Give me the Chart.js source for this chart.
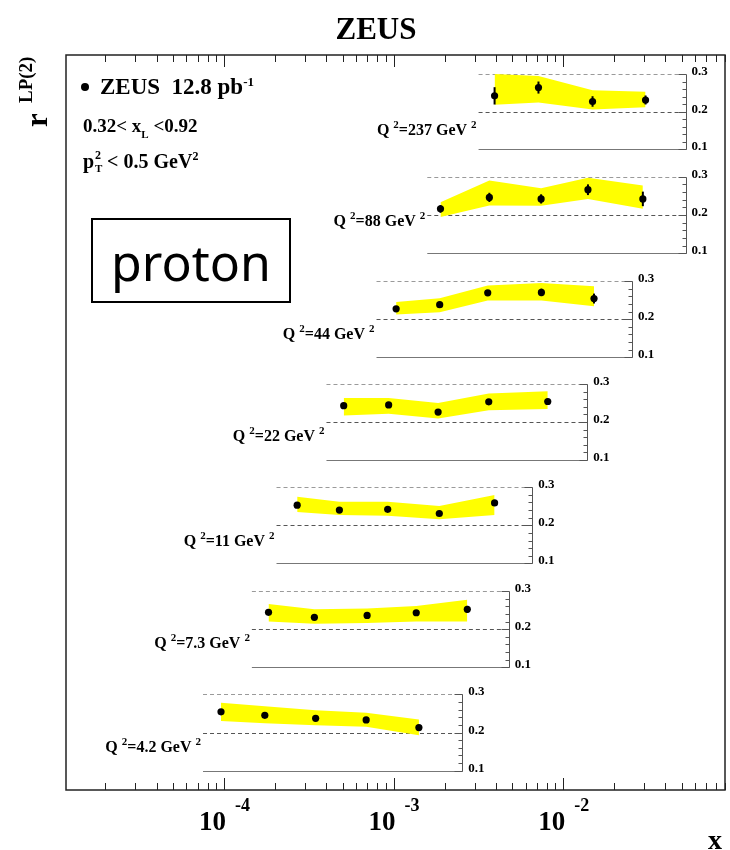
<!DOCTYPE html>
<html>
<head>
<meta charset="utf-8">
<script src="https://cdn.jsdelivr.net/npm/chart.js@4.4.1/dist/chart.umd.min.js"></script>
<style>
  html, body { margin: 0; padding: 0; background: #fff; }
  #wrap { width: 730px; height: 850px; }
</style>
</head>
<body>
<div id="wrap"><canvas id="c" width="730" height="850"></canvas></div>
<script>
// Q^2 bins, top panel first
const q2Labels = ["237", "88", "44", "22", "11", "7.3", "4.2"];

// bin centres in x for every Q^2 bin
const xValues = [
  [3.94e-3, 7.15e-3, 0.0149, 0.0306],
  [1.89e-3, 3.67e-3, 7.41e-3, 0.0140, 0.0295],
  [1.035e-3, 1.87e-3, 3.59e-3, 7.44e-3, 0.0152],
  [5.08e-4, 9.35e-4, 1.83e-3, 3.64e-3, 8.11e-3],
  [2.70e-4, 4.79e-4, 9.23e-4, 1.86e-3, 3.94e-3],
  [1.83e-4, 3.41e-4, 6.98e-4, 1.36e-3, 2.72e-3],
  [9.6e-5, 1.74e-4, 3.47e-4, 6.89e-4, 1.41e-3]
];

// r^LP(2) measured
const rValues = [
  [0.242, 0.264, 0.227, 0.231],
  [0.216, 0.246, 0.242, 0.266, 0.242],
  [0.227, 0.238, 0.269, 0.270, 0.254],
  [0.243, 0.245, 0.226, 0.253, 0.254],
  [0.253, 0.240, 0.242, 0.231, 0.259],
  [0.244, 0.231, 0.236, 0.243, 0.252],
  [0.254, 0.245, 0.237, 0.233, 0.213]
];

// statistical errors
const statErr = [
  [0.023, 0.016, 0.014, 0.012],
  [0.010, 0.012, 0.012, 0.014, 0.019],
  [0.005, 0.005, 0.006, 0.010, 0.013],
  [0.005, 0.005, 0.005, 0.006, 0.007],
  [0.005, 0.005, 0.005, 0.006, 0.007],
  [0.005, 0.005, 0.005, 0.006, 0.009],
  [0.005, 0.005, 0.005, 0.005, 0.006]
];

// systematic band, upper and lower edge
const bandHigh = [
  [0.300, 0.295, 0.257, 0.253],
  [0.233, 0.290, 0.270, 0.297, 0.277],
  [0.245, 0.255, 0.288, 0.295, 0.286],
  [0.263, 0.263, 0.250, 0.275, 0.281],
  [0.275, 0.262, 0.262, 0.251, 0.280],
  [0.266, 0.252, 0.254, 0.261, 0.277],
  [0.278, 0.269, 0.258, 0.252, 0.234]
];
const bandLow = [
  [0.218, 0.224, 0.206, 0.212],
  [0.195, 0.225, 0.224, 0.242, 0.216],
  [0.212, 0.218, 0.249, 0.249, 0.234],
  [0.217, 0.222, 0.209, 0.231, 0.234],
  [0.235, 0.227, 0.225, 0.216, 0.227],
  [0.220, 0.214, 0.216, 0.220, 0.220],
  [0.230, 0.224, 0.219, 0.215, 0.193]
];

const panelTicks = [0.1, 0.2, 0.3];
const xTickPowers = [-4, -3, -2];

// ---- layout (pixels / axis extents), not data ----
const area = { left: 66, right: 725, top: 55, bottom: 790 };
const panelTopPx = [74, 176.7, 281, 384, 487.3, 591, 694.3];
const panelBotPx = [149.3, 253.3, 357.3, 460, 563.3, 667.3, 770.7];
const panelXFrom = [3.17e-3, 1.58e-3, 7.93e-4, 4.02e-4, 2.04e-4, 1.46e-4, 7.52e-5];
const panelXTo = [0.0527, 0.0527, 0.0255, 0.01386, 6.56e-3, 4.77e-3, 2.54e-3];
const labelDrop = [23, 11, 20, 19, 21, 19, 19];
const YELLOW = "#ffff00";

const serif = (px) => "bold " + px + "px 'Liberation Serif', 'DejaVu Serif', serif";

function rich(ctx, parts, x, y, align) {
  let w = 0;
  parts.forEach(p => { ctx.font = serif(p[1]); w += ctx.measureText(p[0]).width; });
  let cx = align === "right" ? x - w : (align === "center" ? x - w / 2 : x);
  parts.forEach(p => {
    ctx.font = serif(p[1]);
    ctx.fillText(p[0], cx, y - (p[2] || 0));
    cx += ctx.measureText(p[0]).width;
  });
  return cx;
}

const scales = {
  x: { type: "logarithmic", min: 1.17e-5, max: 0.09, display: false }
};
const datasets = [];
q2Labels.forEach((q, i) => {
  const ppu = (panelBotPx[i] - panelTopPx[i]) / 0.2;
  scales["y" + i] = {
    type: "linear",
    display: false,
    min: 0.1 - (area.bottom - panelBotPx[i]) / ppu,
    max: 0.3 + (panelTopPx[i] - area.top) / ppu
  };
  datasets.push({
    data: xValues[i].map((x, j) => ({ x: x, y: bandHigh[i][j] })),
    yAxisID: "y" + i, borderWidth: 0, pointRadius: 0, fill: false, tension: 0, order: 2
  });
  datasets.push({
    data: xValues[i].map((x, j) => ({ x: x, y: bandLow[i][j] })),
    yAxisID: "y" + i, borderWidth: 0, pointRadius: 0, fill: "-1",
    backgroundColor: YELLOW, tension: 0, order: 2
  });
  datasets.push({
    data: xValues[i].map((x, j) => ({ x: x, y: rValues[i][j] })),
    yAxisID: "y" + i, showLine: false, pointRadius: 3.6,
    pointBackgroundColor: "#000", pointBorderWidth: 0, order: 0
  });
});

const panelPlugin = {
  id: "panels",
  beforeDatasetsDraw(chart) {
    const ctx = chart.ctx;
    const xs = chart.scales.x;
    ctx.save();
    q2Labels.forEach((q, i) => {
      const ys = chart.scales["y" + i];
      const x0 = xs.getPixelForValue(panelXFrom[i]);
      const x1 = Math.round(xs.getPixelForValue(panelXTo[i])) + 0.5;
      const y3 = Math.round(ys.getPixelForValue(0.3)) + 0.5;
      const y2 = Math.round(ys.getPixelForValue(0.2)) + 0.5;
      const y1 = Math.round(ys.getPixelForValue(0.1)) + 0.5;
      ctx.lineWidth = 1;
      ctx.setLineDash([4, 3]);
      ctx.strokeStyle = "#9a9a9a";
      ctx.beginPath(); ctx.moveTo(x0, y3); ctx.lineTo(x1, y3); ctx.stroke();
      ctx.strokeStyle = "#555";
      ctx.beginPath(); ctx.moveTo(x0, y2); ctx.lineTo(x1, y2); ctx.stroke();
      ctx.setLineDash([]);
      ctx.strokeStyle = "#777";
      ctx.beginPath(); ctx.moveTo(x0, y1); ctx.lineTo(x1, y1); ctx.stroke();
      ctx.strokeStyle = "#555";
      ctx.beginPath(); ctx.moveTo(x1, y1); ctx.lineTo(x1, y3); ctx.stroke();
      for (let k = 0; k <= 10; k++) {
        const v = 0.1 + k * 0.02;
        const yy = Math.round(ys.getPixelForValue(v)) + 0.5;
        const len = k % 5 === 0 ? 8 : 4;
        ctx.beginPath(); ctx.moveTo(x1, yy); ctx.lineTo(x1 - len, yy); ctx.stroke();
      }
    });
    ctx.restore();
  },
  afterDatasetsDraw(chart) {
    const ctx = chart.ctx;
    const xs = chart.scales.x;
    ctx.save();
    ctx.strokeStyle = "#000";
    ctx.lineWidth = 2;
    q2Labels.forEach((q, i) => {
      const ys = chart.scales["y" + i];
      xValues[i].forEach((x, j) => {
        const px = xs.getPixelForValue(x);
        ctx.beginPath();
        ctx.moveTo(px, ys.getPixelForValue(rValues[i][j] - statErr[i][j]));
        ctx.lineTo(px, ys.getPixelForValue(rValues[i][j] + statErr[i][j]));
        ctx.stroke();
      });
    });
    ctx.restore();
  },
  afterDraw(chart) {
    const ctx = chart.ctx;
    const xs = chart.scales.x;
    ctx.save();
    ctx.fillStyle = "#000";
    ctx.textBaseline = "alphabetic";
    ctx.textAlign = "left";

    // panel axis labels and Q^2 labels
    q2Labels.forEach((q, i) => {
      const ys = chart.scales["y" + i];
      const x0 = xs.getPixelForValue(panelXFrom[i]);
      const x1 = xs.getPixelForValue(panelXTo[i]);
      ctx.font = serif(13);
      panelTicks.forEach(t => {
        ctx.fillText(t.toFixed(1), x1 + 6, ys.getPixelForValue(t) + 1);
      });
      const yb = ys.getPixelForValue(0.2) + labelDrop[i];
      rich(ctx, [["Q ", 16], ["2", 11, 7], ["=" + q + " GeV ", 16], ["2", 11, 7]], x0 - 2, yb, "right");
    });

    // outer frame
    ctx.strokeStyle = "#222";
    ctx.lineWidth = 1.5;
    ctx.strokeRect(area.left, area.top, area.right - area.left, area.bottom - area.top);
    ctx.lineWidth = 1;
    for (let d = -5; d <= -2; d++) {
      for (let m = 1; m <= 9; m++) {
        const v = m * Math.pow(10, d);
        if (v < xs.min || v > xs.max) continue;
        const px = Math.round(xs.getPixelForValue(v)) + 0.5;
        const len = m === 1 ? 12 : 7;
        ctx.beginPath();
        ctx.moveTo(px, area.top); ctx.lineTo(px, area.top + len);
        ctx.moveTo(px, area.bottom); ctx.lineTo(px, area.bottom - len);
        ctx.stroke();
      }
    }

    // x tick labels
    xTickPowers.forEach(p => {
      const px = xs.getPixelForValue(Math.pow(10, p));
      ctx.font = serif(27);
      ctx.textAlign = "right";
      ctx.fillText("10", px + 2, 830);
      ctx.textAlign = "left";
      ctx.font = serif(18);
      ctx.fillText(String(p), px + 11, 811);
    });
    ctx.font = serif(28);
    ctx.fillText("x", 708, 849);

    // title
    ctx.textAlign = "center";
    ctx.font = serif(31);
    ctx.fillText("ZEUS", 376, 39);
    ctx.textAlign = "left";

    // y title
    ctx.save();
    ctx.translate(47, 127);
    ctx.rotate(-Math.PI / 2);
    ctx.font = serif(31);
    ctx.fillText("r", 0, 0);
    ctx.font = serif(19);
    ctx.fillText("LP(2)", 24, -15);
    ctx.restore();

    // legend
    ctx.beginPath();
    ctx.arc(85, 87, 4, 0, Math.PI * 2);
    ctx.fill();
    rich(ctx, [["ZEUS  12.8 pb", 23], ["-1", 13, 8]], 100, 94, "left");
    rich(ctx, [["0.32< x", 19], ["L", 11, -6], [" <0.92", 19]], 83, 132, "left");
    ctx.font = serif(20);
    ctx.fillText("p", 83, 168);
    const sx = 83 + ctx.measureText("p").width + 1;
    ctx.font = serif(12);
    ctx.fillText("2", sx, 159);
    ctx.font = serif(11);
    ctx.fillText("T", sx, 172);
    rich(ctx, [[" < 0.5 GeV", 20], ["2", 12, 8]], sx + 7, 168, "left");

    // proton box
    ctx.lineWidth = 2;
    ctx.strokeStyle = "#000";
    ctx.strokeRect(92, 219, 198, 83);
    ctx.font = "50px 'Noto Sans', 'Open Sans', sans-serif";
    ctx.textAlign = "center";
    ctx.fillText("proton", 191, 281);
    ctx.restore();
  }
};

new Chart(document.getElementById("c"), {
  type: "line",
  data: { datasets: datasets },
  options: {
    responsive: false,
    animation: false,
    layout: {
      padding: { left: area.left, right: 730 - area.right, top: area.top, bottom: 850 - area.bottom }
    },
    scales: scales,
    plugins: { legend: { display: false }, tooltip: { enabled: false } }
  },
  plugins: [panelPlugin]
});
</script>
</body>
</html>
